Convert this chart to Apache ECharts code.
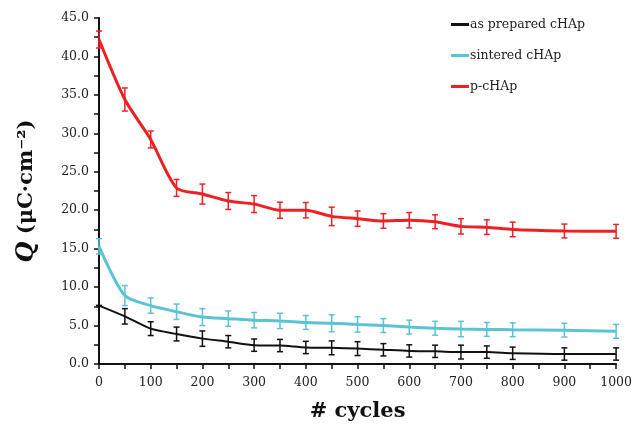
<!DOCTYPE html>
<html>
<head>
<meta charset="utf-8">
<script src="https://cdn.jsdelivr.net/npm/echarts@6/dist/echarts.min.js"></script>
<style>html,body{margin:0;padding:0;background:#fff}#c{width:635px;height:427px}</style>
</head>
<body>
<div id="c"></div>
<script>
var cycles = [0, 50, 100, 150, 200, 250, 300, 350, 400, 450, 500, 550, 600, 650, 700, 750, 800, 900, 1000];
var asPrepared = [7.6, 6.2, 4.6, 3.9, 3.3, 2.9, 2.45, 2.4, 2.15, 2.1, 2.0, 1.85, 1.7, 1.65, 1.55, 1.55, 1.4, 1.3, 1.3];
var asPreparedErr = [0.0, 1.0, 0.9, 0.9, 1.0, 0.8, 0.8, 0.8, 0.8, 0.9, 0.9, 0.8, 0.8, 0.8, 0.9, 0.8, 0.8, 0.8, 0.8];
var sintered = [15.3, 8.9, 7.6, 6.8, 6.1, 5.9, 5.7, 5.6, 5.4, 5.3, 5.15, 5.0, 4.8, 4.65, 4.55, 4.5, 4.45, 4.4, 4.25];
var sinteredErr = [1.0, 1.3, 1.0, 1.0, 1.1, 1.0, 1.0, 1.0, 0.9, 1.1, 1.0, 0.9, 0.9, 0.9, 1.0, 0.9, 0.9, 0.9, 0.9];
var pcHAp = [42.2, 34.4, 29.2, 22.9, 22.1, 21.2, 20.8, 20.0, 20.0, 19.2, 18.9, 18.6, 18.7, 18.5, 17.9, 17.8, 17.5, 17.3, 17.25];
var pcHApErr = [1.1, 1.5, 1.1, 1.1, 1.3, 1.1, 1.1, 1.05, 1.0, 1.2, 1.0, 0.95, 1.0, 0.9, 1.0, 0.95, 0.95, 0.9, 0.9];
var yTicks = [0, 5, 10, 15, 20, 25, 30, 35, 40, 45];

var names = ['as prepared cHAp', 'sintered cHAp', 'p-cHAp'];
var colors = ['#111111', '#5bc4d3', '#ee2024'];
var values = [asPrepared, sintered, pcHAp];
var errs = [asPreparedErr, sinteredErr, pcHApErr];

function pairs(v) { return cycles.map(function (c, i) { return [c, v[i]]; }); }
function errData(v, e) { return cycles.map(function (c, i) { return [c, v[i] - e[i], v[i] + e[i]]; }); }

function errRender(color) {
  return function (params, api) {
    var x = api.value(0);
    var lo = api.coord([x, api.value(1)]);
    var hi = api.coord([x, api.value(2)]);
    var w = 3;
    var st = { stroke: color, lineWidth: 1.5 };
    return {
      type: 'group',
      children: [
        { type: 'line', shape: { x1: lo[0], y1: lo[1], x2: hi[0], y2: hi[1] }, style: st },
        { type: 'line', shape: { x1: lo[0] - w, y1: lo[1], x2: lo[0] + w, y2: lo[1] }, style: st },
        { type: 'line', shape: { x1: hi[0] - w, y1: hi[1], x2: hi[0] + w, y2: hi[1] }, style: st }
      ]
    };
  };
}

var series = [];
for (var k = 0; k < 3; k++) {
  series.push({
    name: names[k], type: 'line', data: pairs(values[k]), smooth: 0.25,
    symbol: 'none', lineStyle: { color: colors[k], width: k === 0 ? 2 : 3 },
    itemStyle: { color: colors[k] }, z: 3
  });
  series.push({
    name: names[k] + ' err', type: 'custom', data: errData(values[k], errs[k]),
    renderItem: errRender(colors[k]), z: 4, silent: true
  });
}

var serif = '"DejaVu Serif", "Liberation Serif", serif';
var chart = echarts.init(document.getElementById('c'), null, { renderer: 'canvas' });
chart.setOption({
  animation: false,
  backgroundColor: '#fff',
  textStyle: { fontFamily: serif },
  grid: { left: 99, right: 17, top: 18, bottom: 62, containLabel: false },
  legend: {
    data: names.map(function (n, i) { return { name: n, itemStyle: { color: colors[i] } }; }),
    orient: 'vertical', left: 446, top: 13, itemGap: 18,
    icon: 'rect', itemWidth: 18, itemHeight: 3,
    textStyle: { fontFamily: serif, fontSize: 12.5, color: '#222', padding: [0, 0, 0, -4] }
  },
  xAxis: {
    type: 'value', min: 0, max: 1000, interval: 100,
    name: '# cycles', nameLocation: 'middle', nameGap: 37,
    nameTextStyle: { fontFamily: serif, fontSize: 21, fontWeight: 'bold', color: '#111' },
    axisLine: { lineStyle: { color: '#111', width: 2 } },
    axisTick: { show: true, length: 5, lineStyle: { color: '#111', width: 1.5 } },
    minorTick: { show: true, splitNumber: 2, length: 5, lineStyle: { color: '#111', width: 1.5 } },
    splitLine: { show: false },
    axisLabel: { fontFamily: serif, fontSize: 12.5, color: '#222', margin: 12, formatter: function (v) { return String(v); } }
  },
  yAxis: {
    type: 'value', min: yTicks[0], max: yTicks[yTicks.length - 1], interval: 5,
    name: '{q|Q} (μC·cm⁻²)', nameLocation: 'middle', nameGap: 60, nameRotate: 90,
    nameTextStyle: {
      fontFamily: serif, fontSize: 21, fontWeight: 'bold', color: '#111',
      rich: { q: { fontFamily: serif, fontSize: 24, fontWeight: 'bold', fontStyle: 'italic', color: '#111' } }
    },
    axisLine: { show: true, lineStyle: { color: '#111', width: 2 } },
    axisTick: { show: true, length: 5, lineStyle: { color: '#111', width: 1.5 } },
    minorTick: { show: true, splitNumber: 2, length: 5, lineStyle: { color: '#111', width: 1.5 } },
    splitLine: { show: false },
    axisLabel: { fontFamily: serif, fontSize: 12.5, color: '#222', margin: 10, formatter: function (v) { return v.toFixed(1); } }
  },
  series: series
});
</script>
</body>
</html>
